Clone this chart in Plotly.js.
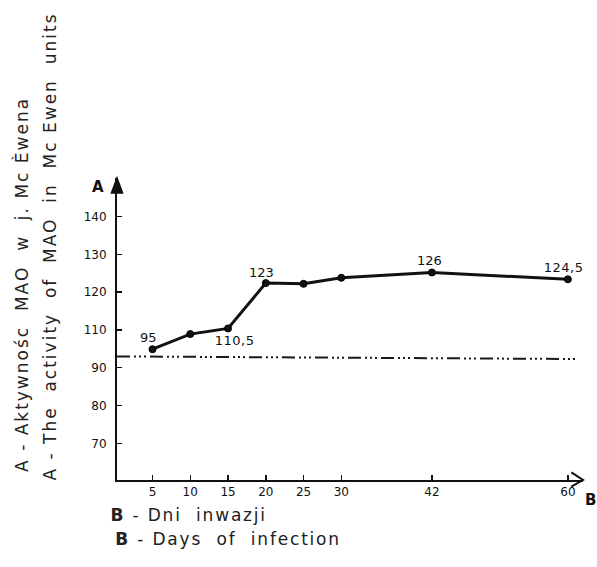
<!DOCTYPE html>
<html>
<head>
<meta charset="utf-8">
<script src="https://cdn.plot.ly/plotly-3.0.1.min.js"></script>
<style>html,body{margin:0;padding:0;background:#fff;}</style>
</head>
<body>
<div id="chart" style="width:597px;height:567px;"></div>
<script>
// Days of infection
const days = [5, 10, 15, 20, 25, 30, 42, 60];
// MAO activity as drawn on the (hand-drawn, offset) vertical scale
const activity = [104.9, 108.9, 110.4, 122.4, 122.2, 123.8, 125.2, 123.4];
// Value labels written next to points
const pointLabels = ["95", "", "110,5", "123", "", "", "126", "124,5"];
// Reference (control) dash-dot line
const refX = [0.3, 61.3];
const refY = [103.0, 102.3];
// Y tick positions and printed labels
const yTickVals = [80, 90, 100, 110, 120, 130, 140];
const yTickText = ["70", "80", "90", "110", "120", "130", "140"];
const xTickVals = [5, 10, 15, 20, 25, 30, 42, 60];

const FONT = "DejaVu Sans, Liberation Sans, sans-serif";
const XR = [0.3, 62];
const YR = [70.3, 150.2];

const traces = [
  {
    x: refX, y: refY, mode: "lines", hoverinfo: "skip",
    line: {color: "#1a1a1a", width: 2, dash: "13px,4px,2px,3px,2px,3px,2px,4px"}
  },
  {
    x: days, y: activity, mode: "lines+markers",
    line: {color: "#111", width: 3},
    marker: {color: "#111", size: 7, line: {color: "#000", width: 1}}
  }
];

const labelShift = {"95": [-4, 12], "110,5": [6, -12], "123": [-4, 11], "126": [-2, 12], "124,5": [-4, 12]};
const annotations = [];
days.forEach((d, i) => {
  const t = pointLabels[i];
  if (!t) return;
  const s = labelShift[t];
  annotations.push({
    x: d, y: activity[i], xref: "x", yref: "y", text: t, showarrow: false,
    xshift: s[0], yshift: s[1], font: {family: FONT, size: 13, color: "#111"}
  });
});
// axis letters
annotations.push({x: 0, y: 1, xref: "paper", yref: "paper", text: "<b>A</b>", showarrow: false,
  xanchor: "center", yanchor: "middle", xshift: -19, yshift: -9, font: {family: FONT, size: 15, color: "#111"}});
annotations.push({x: 1, y: 0, xref: "paper", yref: "paper", text: "<b>B</b>", showarrow: false,
  xanchor: "center", yanchor: "middle", xshift: 7, yshift: -20, font: {family: FONT, size: 15, color: "#111"}});
// vertical titles
annotations.push({x: 0, y: 0.646, xref: "paper", yref: "paper", textangle: -90, showarrow: false,
  xanchor: "center", yanchor: "middle", xshift: -95,
  text: "A - Aktywnośc  MAO  w  j. Mc Èwena", font: {family: FONT, size: 17, color: "#222"}});
annotations.push({x: 0, y: 0.773, xref: "paper", yref: "paper", textangle: -90, showarrow: false,
  xanchor: "center", yanchor: "middle", xshift: -67,
  text: "A - The  activity  of  MAO  in  Mc Ewen  units", font: {family: FONT, size: 17, color: "#222"}});
// horizontal titles
annotations.push({x: 0, y: 0, xref: "paper", yref: "paper", showarrow: false, xanchor: "center",
  xshift: 72, yshift: -47, text: "<b>B</b> - Dni  inwazji", font: {family: FONT, size: 17, color: "#222"}});
annotations.push({x: 0, y: 0, xref: "paper", yref: "paper", showarrow: false, xanchor: "center",
  xshift: 111, yshift: -71, text: "<b>B</b> - Days  of  infection", font: {family: FONT, size: 17, color: "#222"}});

const shapes = [
  // y arrow head
  {type: "path", xref: "paper", yref: "paper", path: "M -0.012 0.95 L 0 1 L 0.012 0.95 Z",
   fillcolor: "#111", line: {color: "#111", width: 1.5}},
  // x arrow head (open chevron)
  {type: "path", xref: "paper", yref: "paper", path: "M 0.975 0.025 L 1 0 L 0.975 -0.022",
   line: {color: "#111", width: 2}}
];

const layout = {
  width: 597, height: 567,
  margin: {l: 117, r: 14, t: 178, b: 87},
  paper_bgcolor: "#fff", plot_bgcolor: "#fff",
  showlegend: false,
  font: {family: FONT, color: "#111"},
  xaxis: {
    range: XR, showgrid: false, zeroline: false, showline: true, linecolor: "#111", linewidth: 2,
    ticks: "inside", ticklen: 5, tickwidth: 1.5, tickcolor: "#111",
    tickvals: xTickVals, ticktext: xTickVals.map(String),
    tickfont: {family: FONT, size: 12, color: "#111"}
  },
  yaxis: {
    range: YR, showgrid: false, zeroline: false, showline: true, linecolor: "#111", linewidth: 2,
    ticks: "inside", ticklen: 5, tickwidth: 1.5, tickcolor: "#111",
    tickvals: yTickVals, ticktext: yTickText, ticklabelstandoff: 6,
    tickfont: {family: FONT, size: 12, color: "#111"}
  },
  annotations: annotations,
  shapes: shapes
};

Plotly.newPlot("chart", traces, layout, {displayModeBar: false, staticPlot: true}).then(() => {
  document.querySelectorAll("text.annotation-text").forEach(el => {
    const t = el.textContent;
    if (t.startsWith("A - ")) el.style.letterSpacing = "2px";
    else if (t.startsWith("B - ")) el.style.letterSpacing = "1.8px";
    else if (t.indexOf(",") >= 0) el.style.letterSpacing = "0.5px";
  });
});
</script>
</body>
</html>
